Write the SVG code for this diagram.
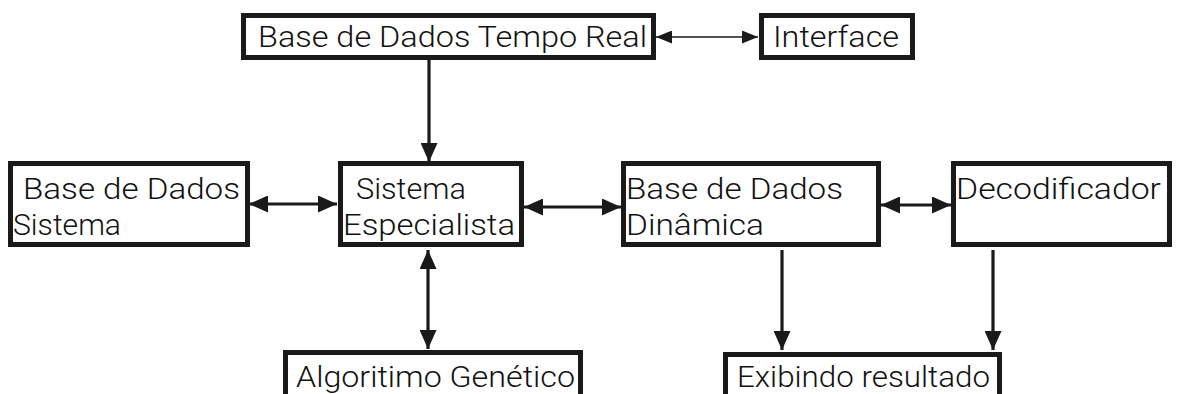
<svg xmlns="http://www.w3.org/2000/svg" width="1177" height="394" viewBox="0 0 1177 394">
<style>
  .box { fill: #ffffff; stroke: #1a1a1a; stroke-width: 5; }
  .lbl { font-family: Roboto, "Liberation Sans", Arial, sans-serif; font-weight: 300; font-size: 30px; fill: #111111; }
  .conn { stroke: #1a1a1a; stroke-width: 3.2; fill: none; }
  .thin { stroke: #1a1a1a; stroke-width: 1.6; fill: none; }
</style>
<defs>
  <marker id="ah" viewBox="0 0 19 17" markerWidth="19" markerHeight="17" refX="19" refY="8.5" orient="auto-start-reverse" markerUnits="userSpaceOnUse">
    <path d="M0,0 L19,8.5 L0,17 z" fill="#1a1a1a"/>
  </marker>
  <marker id="ahs" viewBox="0 0 16 13" markerWidth="16" markerHeight="13" refX="16" refY="6.5" orient="auto-start-reverse" markerUnits="userSpaceOnUse">
    <path d="M0,0 L16,6.5 L0,13 z" fill="#1a1a1a"/>
  </marker>
</defs>
<rect x="0" y="0" width="1177" height="394" fill="#ffffff"/>

<g id="connectors">
  <line class="thin" x1="656" y1="37" x2="758" y2="37" marker-start="url(#ahs)" marker-end="url(#ahs)"/>
  <line class="conn" x1="429" y1="59" x2="429" y2="162" marker-end="url(#ah)"/>
  <line class="conn" x1="249" y1="204" x2="337" y2="204" marker-start="url(#ah)" marker-end="url(#ah)"/>
  <line class="conn" x1="524" y1="207" x2="621" y2="207" marker-start="url(#ah)" marker-end="url(#ah)"/>
  <line class="conn" x1="881" y1="205" x2="951" y2="205" marker-start="url(#ah)" marker-end="url(#ah)"/>
  <line class="conn" x1="428" y1="250" x2="428" y2="349" marker-start="url(#ah)" marker-end="url(#ah)"/>
  <line class="conn" x1="782" y1="250" x2="782" y2="350" marker-end="url(#ah)"/>
  <line class="conn" x1="993" y1="250" x2="993" y2="350" marker-end="url(#ah)"/>
</g>

<g id="node-bdtr">
  <rect class="box" x="243.5" y="15.5" width="410" height="42"/>
  <text class="lbl" x="258" y="47" textLength="389" lengthAdjust="spacingAndGlyphs">Base de Dados Tempo Real</text>
</g>
<g id="node-interface">
  <rect class="box" x="761.5" y="15.5" width="151" height="42"/>
  <text class="lbl" x="773" y="47" textLength="126" lengthAdjust="spacingAndGlyphs">Interface</text>
</g>
<g id="node-bds">
  <rect class="box" x="10.5" y="163.5" width="237" height="81"/>
  <text class="lbl" x="23" y="199" textLength="217" lengthAdjust="spacingAndGlyphs">Base de Dados</text>
  <text class="lbl" x="13" y="235" textLength="108" lengthAdjust="spacingAndGlyphs">Sistema</text>
</g>
<g id="node-se">
  <rect class="box" x="340.5" y="163.5" width="181" height="81"/>
  <text class="lbl" x="356" y="199" textLength="110" lengthAdjust="spacingAndGlyphs">Sistema</text>
  <text class="lbl" x="343" y="235" textLength="172" lengthAdjust="spacingAndGlyphs">Especialista</text>
</g>
<g id="node-bdd">
  <rect class="box" x="623.5" y="163.5" width="255" height="81"/>
  <text class="lbl" x="626" y="199" textLength="217" lengthAdjust="spacingAndGlyphs">Base de Dados</text>
  <text class="lbl" x="626" y="235" textLength="138" lengthAdjust="spacingAndGlyphs">Dinâmica</text>
</g>
<g id="node-dec">
  <rect class="box" x="953.5" y="163.5" width="216" height="81"/>
  <text class="lbl" x="956" y="199" textLength="205" lengthAdjust="spacingAndGlyphs">Decodificador</text>
</g>
<g id="node-alg">
  <rect class="box" x="285.5" y="352.5" width="295" height="60"/>
  <text class="lbl" x="296" y="387" textLength="279" lengthAdjust="spacingAndGlyphs">Algoritimo Genético</text>
</g>
<g id="node-exib">
  <rect class="box" x="725.5" y="354.5" width="274" height="60"/>
  <text class="lbl" x="737" y="387" textLength="253" lengthAdjust="spacingAndGlyphs">Exibindo resultado</text>
</g>
</svg>
